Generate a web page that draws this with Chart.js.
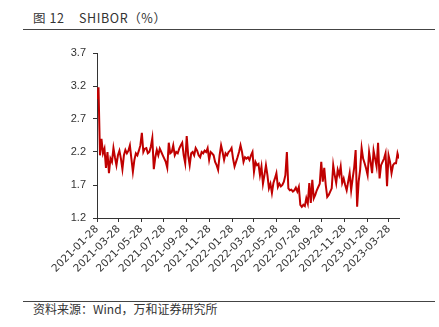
<!DOCTYPE html>
<html>
<head>
<meta charset="utf-8">
<script src="https://cdn.jsdelivr.net/npm/chart.js@4.4.1/dist/chart.umd.min.js"></script>
<style>
  html, body { margin: 0; padding: 0; background: #fff; }
  #wrap { position: relative; width: 439px; height: 327px; overflow: hidden; }
  #chart { position: absolute; left: 0; top: 0; }
  .title { position: absolute; top: 10px; font: 12.5px/15px "Noto Sans CJK SC", sans-serif; color: #333; white-space: pre; letter-spacing: 0.6px; }
  .rule { position: absolute; left: 23px; width: 412px; height: 0; border-top: 1px solid #444; }
  .source { position: absolute; left: 33px; top: 302px; font: 12px/14px "Noto Sans CJK SC", sans-serif; color: #333; white-space: pre; }
</style>
</head>
<body>
<div id="wrap">
  <div class="title" style="left:33px">图 12</div>
  <div class="title" style="left:79px">SHIBOR（%）</div>
  <div class="rule" style="top:29px"></div>
  <canvas id="chart" width="439" height="300"></canvas>
  <div class="rule" style="top:301px"></div>
  <div class="source">资料来源：Wind，万和证券研究所</div>
</div>
<script>
// axis labels (every two months) and y ticks
const tickDates = ['2021-01-28', '2021-03-28', '2021-05-28', '2021-07-28', '2021-09-28', '2021-11-28',
  '2022-01-28', '2022-03-28', '2022-05-28', '2022-07-28', '2022-09-28', '2022-11-28',
  '2023-01-28', '2023-03-28'];
const yTicks = [1.2, 1.7, 2.2, 2.7, 3.2, 3.7];

// SHIBOR (%), one reading roughly every 4 days from 2021-01-28
const shibor = [
  3.0, 3.18, 2.15, 2.4, 2.18, 2.25, 1.96, 2.2, 1.88, 2.1,
  2.05, 2.26, 2.12, 2.0, 2.15, 2.22, 2.1, 1.94, 2.15, 2.23,
  2.18, 2.22, 2.3, 2.1, 1.9, 2.08, 2.18, 2.15, 2.22, 2.3,
  2.49, 2.2, 2.25, 2.26, 2.18, 2.2, 2.28, 2.41, 1.94, 2.12,
  2.23, 2.15, 2.25, 2.2, 2.15, 2.1, 2.05, 1.96, 2.34, 2.18,
  2.2, 2.3, 2.15, 2.2, 2.18, 2.25, 2.3, 2.34, 2.15, 2.03,
  2.44, 2.15, 2.0, 2.18, 2.2, 2.15, 2.26, 2.22, 2.15, 2.12,
  2.2, 2.18, 2.22, 2.2, 2.26, 2.08, 2.2, 2.18, 2.15, 2.05,
  2.0, 1.93, 2.15, 2.3, 2.2, 2.08, 2.18, 2.15, 2.2, 2.22,
  2.26, 2.1, 1.98, 2.05, 2.12, 2.2, 2.3, 2.2, 2.05, 2.12,
  2.1, 2.12, 2.08, 2.15, 2.2, 1.9, 2.05, 2.0, 2.02, 1.85,
  1.98, 1.72, 1.85, 2.0, 1.85, 1.65, 1.72, 1.58, 1.73, 1.8,
  1.88, 1.67, 1.72, 1.68, 1.7, 1.75, 1.85, 2.2, 1.65, 1.62,
  1.63, 1.6, 1.62, 1.66, 1.6, 1.67, 1.4, 1.37, 1.4, 1.38,
  1.5, 1.42, 1.73, 1.43, 1.78, 1.5, 1.55, 1.62, 1.67, 1.72,
  2.05, 1.75, 1.96, 1.7, 1.52, 1.55, 1.6, 1.65, 2.0, 1.85,
  1.73, 1.93, 1.85, 1.98, 1.73, 1.8, 1.7, 1.62, 1.75, 1.88,
  1.62, 1.8, 1.96, 2.23, 1.37, 1.75, 1.93, 2.26, 2.1, 2.03,
  1.95, 1.85, 2.2, 2.05, 1.88, 2.22, 2.1, 1.98, 2.34, 1.8,
  2.0, 2.05, 2.1, 2.18, 1.68, 2.15, 2.05, 1.88, 2.0, 2.03,
  2.03, 2.18, 2.1
];

const stepDays = 4.04;
const dayMs = 86400000;
const start = Date.parse(tickDates[0]);
const tickPos = tickDates.map(d => (Date.parse(d) - start) / dayMs / stepDays);

const axisColor = '#333';

new Chart(document.getElementById('chart'), {
  type: 'line',
  data: {
    datasets: [{
      data: shibor.map((v, i) => ({ x: i, y: v })),
      borderColor: '#C00000',
      borderWidth: 2,
      pointRadius: 0,
      tension: 0
    }]
  },
  options: {
    responsive: false,
    animation: false,
    devicePixelRatio: 1,
    layout: { padding: { top: 53, right: 40, left: 0, bottom: 0 } },
    plugins: { legend: { display: false }, tooltip: { enabled: false } },
    scales: {
      x: {
        type: 'linear',
        min: 0,
        max: shibor.length - 1,
        afterFit: s => { s.height = 82; },
        afterBuildTicks: s => { s.ticks = tickPos.map(v => ({ value: v })); },
        border: { display: true, color: axisColor, width: 1 },
        grid: { drawOnChartArea: false, tickLength: 4, color: axisColor },
        ticks: {
          autoSkip: false,
          minRotation: 45,
          maxRotation: 45,
          padding: 1,
          color: axisColor,
          font: { family: 'DejaVu Sans', size: 10.5 },
          callback: (v, i) => tickDates[i]
        }
      },
      y: {
        min: 1.2,
        max: 3.7,
        afterFit: s => { s.width = 97; },
        afterBuildTicks: s => { s.ticks = yTicks.map(v => ({ value: v })); },
        border: { display: true, color: axisColor, width: 1 },
        grid: { drawOnChartArea: false, tickLength: 4, color: axisColor },
        ticks: {
          padding: 7,
          color: axisColor,
          font: { family: 'Liberation Sans', size: 11 },
          callback: v => v.toFixed(1)
        }
      }
    }
  }
});
</script>
</body>
</html>
